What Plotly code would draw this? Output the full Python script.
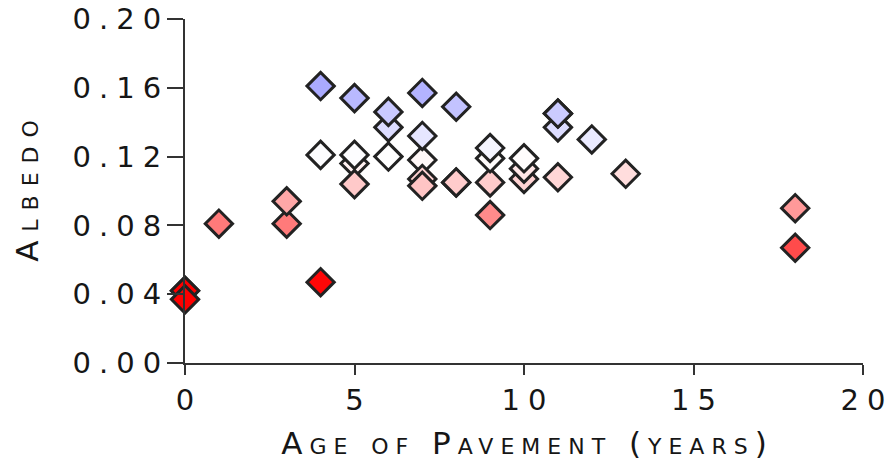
import plotly.graph_objects as go

# Data
age_years = [0, 1, 3, 3, 4, 4, 0, 0, 18, 18, 9, 5, 5, 4, 5, 6, 6, 6, 7, 7, 7, 7,
             8, 8, 9, 9, 9, 10, 10, 10, 11, 11, 11, 12, 13, 7, 5, 8, 11]
albedo = [0.042, 0.081, 0.081, 0.094, 0.047, 0.121, 0.042, 0.037, 0.067, 0.090,
          0.086, 0.116, 0.121, 0.161, 0.154, 0.120, 0.137, 0.146, 0.118, 0.107,
          0.103, 0.132, 0.105, 0.149, 0.105, 0.119, 0.125, 0.107, 0.113, 0.119,
          0.108, 0.137, 0.145, 0.130, 0.110, 0.157, 0.104, 0.105, 0.145]

x_ticks = [0, 5, 10, 15, 20]
x_tick_labels = ["0", "5", "10", "15", "20"]
y_ticks = [0.00, 0.04, 0.08, 0.12, 0.16, 0.20]
y_tick_labels = ["0.00", "0.04", "0.08", "0.12", "0.16", "0.20"]

LS = 8  # letter spacing for the wide reference font


def spaced(s, ls=LS):
    if len(s) <= 1:
        return s
    return "<span style='letter-spacing:%dpx'>%s</span>%s" % (ls, s[:-1], s[-1])


FONT = "DejaVu Sans"
TXT = "#161616"

fig = go.Figure()
fig.add_trace(go.Scatter(
    x=age_years, y=albedo, mode="markers", cliponaxis=False,
    marker=dict(
        symbol="diamond", size=21,
        color=albedo, cmin=0.045, cmax=0.195,
        colorscale=[[0, "rgb(255,0,0)"], [0.5, "rgb(255,255,255)"], [1, "rgb(100,100,255)"]],
        line=dict(color="#222222", width=3),
    ),
    showlegend=False,
))

fig.update_layout(
    width=891, height=461,
    margin=dict(l=185, r=28, t=19, b=98),
    paper_bgcolor="white", plot_bgcolor="white",
    font=dict(family=FONT, size=29, color=TXT),
)
fig.update_xaxes(
    range=[0, 20], tickvals=x_ticks, ticktext=[spaced(t) for t in x_tick_labels],
    automargin=False,
    showgrid=False, zeroline=False, showline=True, linecolor="#333333", linewidth=2,
    ticks="outside", ticklen=10, tickwidth=2, tickcolor="#333333",
    tickfont=dict(family=FONT, size=29, color=TXT),
    title=dict(text="<span style='letter-spacing:7px'>Age of Pavement (years</span>)",
               font=dict(family=FONT, size=31, color=TXT, variant="small-caps"),
               standoff=22),
)
fig.update_yaxes(
    range=[0, 0.2], tickvals=y_ticks, ticktext=[spaced(t) for t in y_tick_labels],
    automargin=False,
    showgrid=False, zeroline=False, showline=True, linecolor="#333333", linewidth=2,
    ticks="outside", ticklen=16, tickwidth=2, tickcolor="#333333",
    tickfont=dict(family=FONT, size=29, color=TXT),
    title=dict(text="<span style='letter-spacing:9px'>Albed</span>o",
               font=dict(family=FONT, size=31, color=TXT, variant="small-caps"),
               standoff=25),
)

fig.write_html("out.html", config={"displayModeBar": False},
               post_script="document.body.style.margin='0';")
